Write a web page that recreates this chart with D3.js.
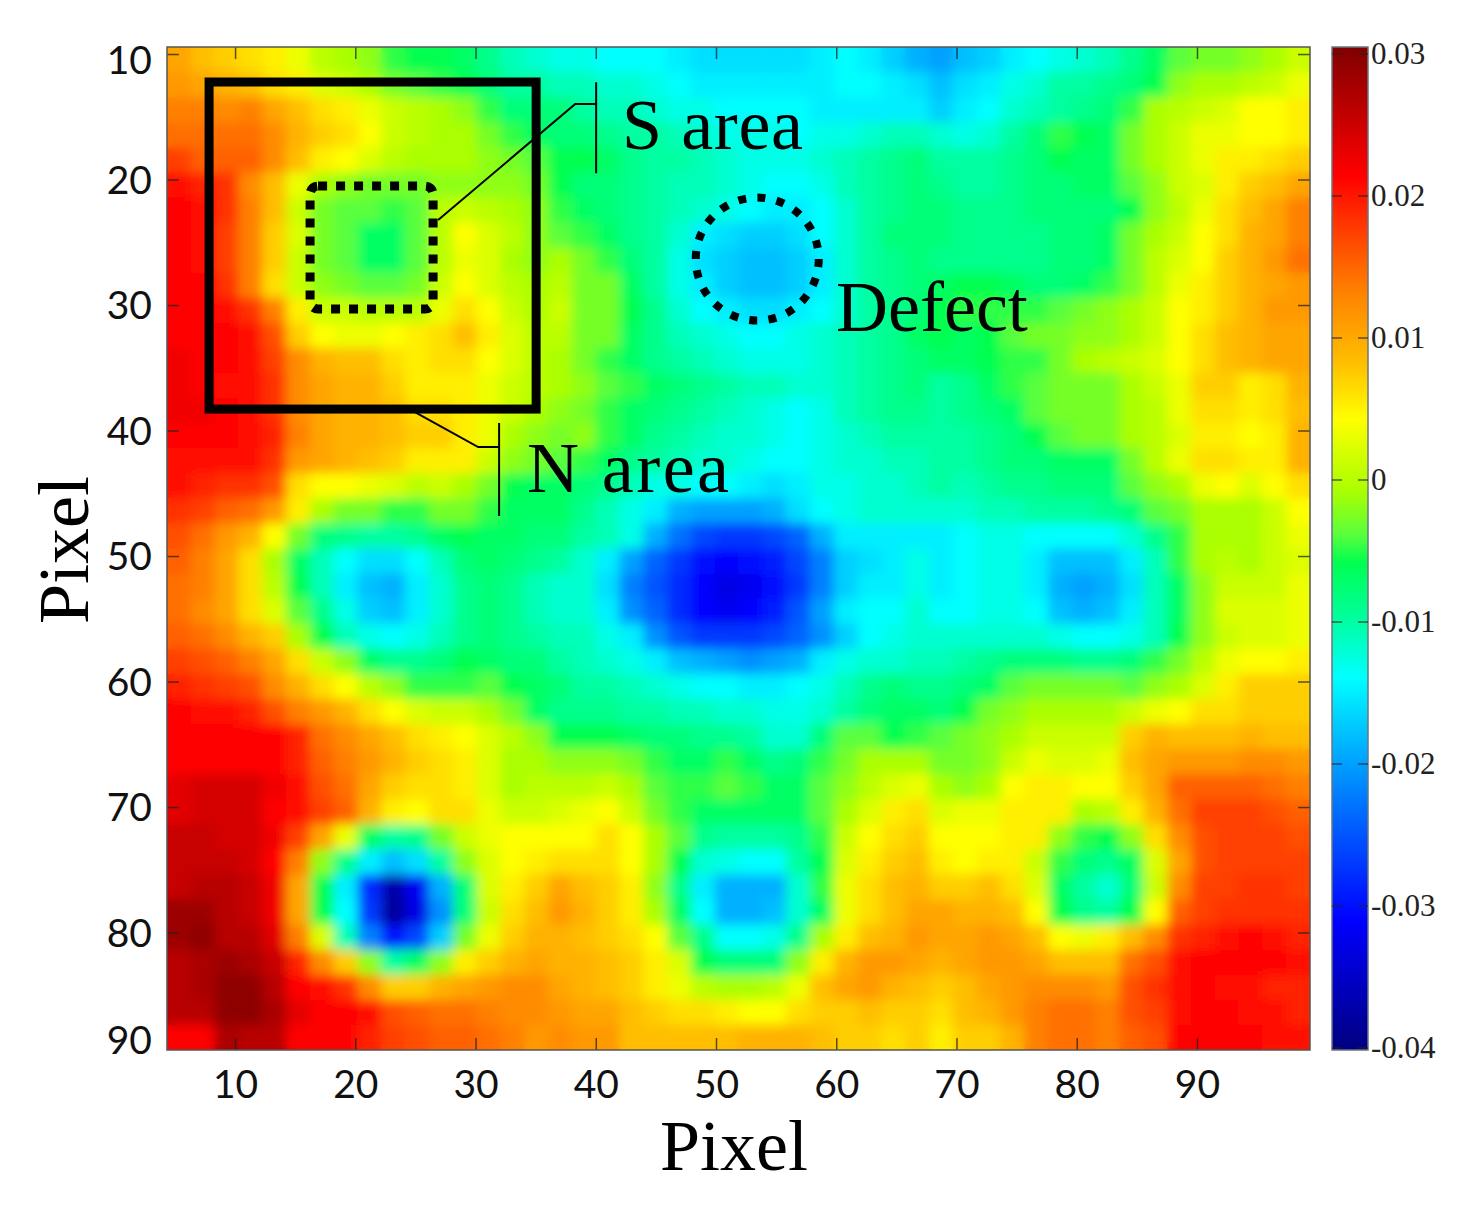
<!DOCTYPE html>
<html>
<head>
<meta charset="utf-8">
<title>Pixel map</title>
<script src="https://cdn.jsdelivr.net/npm/d3@7"></script>
<style>
  body { margin: 0; background: #fff; }
  svg { display: block; }
  .big { font-family: "Liberation Serif", serif; font-size: 72px; fill: #000; }
  .tick-num { font-family: Lato, sans-serif; font-size: 39px; fill: #111; }
  .bar-num { font-family: "Liberation Serif", serif; font-size: 31px; fill: #222; }
</style>
</head>
<body>
<div id="chart"></div>
<script>
// pixel positions of the columns and rows (every second pixel)
const colPixels = [5,7,9,11,13,15,17,19,21,23,25,27,29,31,33,35,37,39,41,43,45,47,49,51,53,55,57,59,61,63,65,67,69,71,73,75,77,79,81,83,85,87,89,91,93,95,97,99];
const rowPixels = [10,12,14,16,18,20,22,24,26,28,30,32,34,36,38,40,42,44,46,48,50,52,54,56,58,60,62,64,66,68,70,72,74,76,78,80,82,84,86,88];

// map values, in thousandths (one row per rowPixels entry)
const heat = [
[10,8,7,6,5,3,0,-1,-2,-5,-6,-6,-7,-9,-11,-12,-13,-13,-14,-14,-14,-15,-16,-16,-16,-16,-16,-15,-14,-15,-17,-19,-20,-18,-17,-15,-14,-13,-12,-11,-9,-7,-4,-3,-3,-2,-1,1],
[11,10,9,8,6,5,2,1,-1,-3,-4,-5,-6,-8,-10,-10,-11,-11,-12,-12,-13,-14,-15,-15,-15,-15,-15,-15,-14,-14,-15,-16,-18,-16,-15,-13,-12,-10,-10,-9,-8,-6,-2,-1,-1,0,1,3],
[13,13,12,13,10,8,6,5,3,1,0,-1,-2,-5,-8,-8,-8,-10,-11,-11,-12,-13,-13,-14,-14,-14,-14,-15,-15,-15,-15,-15,-17,-15,-14,-12,-11,-10,-9,-8,-5,-1,0,1,2,4,4,5],
[14,14,14,14,12,9,7,6,4,1,0,-1,-1,-3,-5,-7,-8,-8,-9,-10,-10,-11,-12,-13,-13,-13,-14,-13,-13,-12,-11,-11,-12,-13,-12,-10,-8,-5,-6,-7,-3,-1,1,3,3,4,4,5],
[17,15,15,15,12,8,5,4,2,0,-1,-1,-1,-2,-3,-4,-6,-6,-7,-9,-10,-10,-11,-12,-13,-13,-13,-12,-11,-10,-9,-8,-10,-10,-10,-9,-8,-6,-7,-7,-3,-1,1,3,5,5,6,7],
[20,19,18,12,8,3,-1,-2,-3,-3,-3,-2,-2,-2,-2,-3,-6,-8,-8,-9,-10,-11,-11,-12,-13,-14,-14,-13,-11,-10,-9,-8,-9,-10,-10,-9,-8,-8,-7,-7,-4,-2,1,2,5,7,8,10],
[21,20,18,13,8,1,-3,-4,-4,-5,-4,0,1,0,-1,-2,-5,-7,-8,-9,-10,-11,-12,-13,-14,-15,-15,-14,-12,-10,-9,-8,-8,-9,-9,-9,-8,-8,-8,-8,-6,-2,0,3,6,8,10,13],
[21,20,17,13,7,2,-3,-4,-7,-7,-4,0,4,2,0,-2,-4,-5,-7,-9,-10,-12,-15,-16,-17,-17,-16,-14,-12,-10,-8,-8,-8,-9,-9,-9,-9,-8,-8,-7,-3,-1,1,4,6,9,10,13],
[21,20,17,13,7,1,-3,-4,-7,-7,-4,0,3,2,-1,-2,-1,-3,-5,-8,-10,-13,-16,-17,-18,-18,-17,-15,-12,-10,-9,-8,-9,-9,-9,-9,-9,-8,-8,-7,-3,0,2,4,7,9,11,14],
[21,21,18,13,6,1,-2,-3,-4,-4,-3,1,4,2,0,-1,0,-3,-3,-7,-10,-13,-15,-17,-18,-18,-17,-15,-12,-10,-9,-8,-7,-6,-6,-7,-8,-8,-7,-5,-3,0,3,5,7,9,10,11],
[21,21,20,18,13,5,1,1,0,0,0,3,6,4,1,-1,1,-3,-3,-6,-9,-12,-14,-15,-16,-16,-15,-14,-12,-10,-9,-8,-6,-5,-5,-5,-5,-4,-3,-2,-1,1,4,5,7,9,11,11],
[21,21,21,20,16,7,4,3,3,4,5,6,8,5,2,0,0,-3,-3,-7,-9,-11,-12,-13,-14,-14,-13,-12,-11,-10,-9,-7,-6,-7,-6,-4,-3,-3,-2,-2,-1,1,4,6,8,9,10,10],
[22,21,21,20,17,12,9,8,8,6,5,6,6,4,2,0,-1,-3,-5,-7,-9,-10,-11,-12,-13,-13,-13,-12,-11,-10,-9,-8,-7,-7,-6,-5,-5,-3,-1,0,1,2,4,6,8,9,10,10],
[22,21,20,20,18,12,10,9,9,7,5,5,5,3,1,0,-1,-2,-4,-5,-7,-8,-9,-10,-11,-11,-12,-12,-11,-10,-9,-8,-10,-9,-7,-5,-4,-3,-3,-3,-1,1,3,7,7,5,6,9],
[22,22,21,20,18,12,10,9,9,8,6,6,5,3,1,-1,-2,-3,-5,-7,-8,-9,-10,-11,-12,-13,-14,-13,-11,-10,-9,-9,-10,-9,-8,-7,-4,-3,-3,-3,-1,0,3,6,6,5,6,8],
[21,21,21,20,19,13,10,9,9,8,7,7,5,3,-1,-2,-3,-2,-5,-7,-9,-10,-11,-12,-12,-13,-14,-13,-12,-11,-10,-10,-10,-10,-9,-8,-6,-4,-3,-3,-1,0,2,5,5,4,5,9],
[20,20,20,20,18,11,10,9,8,7,5,5,5,1,-2,-3,-4,-5,-7,-9,-10,-11,-12,-12,-13,-14,-14,-13,-12,-12,-11,-11,-10,-10,-9,-8,-8,-7,-7,-7,-3,0,3,6,6,5,5,9],
[20,19,18,18,16,6,4,4,3,2,0,1,-1,-3,-6,-7,-7,-8,-9,-11,-13,-13,-14,-14,-15,-16,-15,-13,-13,-12,-12,-11,-10,-11,-10,-9,-9,-8,-8,-8,-4,-2,-1,3,4,2,4,6],
[18,17,15,14,11,5,-1,-3,-3,-5,-5,-3,-3,-5,-7,-7,-7,-9,-11,-13,-15,-19,-20,-20,-20,-19,-16,-14,-13,-12,-12,-12,-12,-12,-11,-11,-10,-10,-10,-9,-8,-4,-3,-1,-1,-1,1,4],
[16,14,11,9,4,-3,-8,-9,-10,-10,-9,-7,-6,-7,-7,-8,-8,-10,-11,-13,-19,-23,-26,-27,-27,-26,-24,-19,-15,-15,-15,-15,-15,-14,-13,-13,-14,-14,-14,-14,-12,-9,-5,-1,-1,-1,1,3],
[15,13,10,6,-1,-7,-11,-14,-16,-16,-14,-11,-8,-7,-8,-9,-10,-12,-15,-20,-24,-27,-30,-31,-30,-29,-26,-22,-17,-16,-15,-13,-15,-14,-13,-13,-15,-18,-18,-18,-15,-11,-5,-1,0,-1,1,2],
[14,13,10,6,0,-6,-11,-15,-18,-19,-15,-12,-9,-8,-9,-11,-12,-12,-16,-22,-25,-28,-31,-33,-32,-30,-27,-22,-17,-15,-15,-13,-15,-14,-13,-13,-15,-19,-20,-19,-16,-11,-7,-2,1,1,1,3],
[14,12,10,6,2,-4,-9,-13,-17,-18,-15,-12,-9,-8,-9,-11,-12,-12,-15,-21,-24,-28,-31,-32,-31,-29,-25,-20,-15,-14,-14,-12,-14,-14,-13,-13,-14,-18,-19,-18,-15,-11,-7,-2,2,2,2,3],
[15,14,12,9,7,-1,-6,-11,-13,-14,-13,-11,-9,-8,-9,-10,-11,-11,-13,-15,-21,-25,-27,-27,-27,-26,-24,-21,-17,-14,-13,-12,-12,-12,-12,-12,-12,-13,-14,-14,-13,-11,-6,-2,1,2,2,3],
[17,16,15,13,10,6,1,-2,-7,-9,-9,-8,-6,-7,-8,-8,-10,-11,-12,-13,-15,-18,-19,-20,-21,-20,-19,-15,-13,-12,-12,-11,-11,-10,-9,-8,-8,-8,-9,-9,-8,-5,-3,0,3,4,4,5],
[19,18,17,16,12,9,6,4,0,-2,-5,-5,-5,-4,-6,-7,-8,-10,-10,-11,-12,-13,-14,-14,-15,-15,-14,-13,-11,-9,-8,-9,-9,-8,-7,-4,-3,-3,-3,-3,-4,-2,-1,2,5,7,7,7],
[21,20,20,19,16,13,11,9,6,4,2,1,1,-1,-3,-7,-9,-9,-9,-10,-10,-11,-11,-12,-12,-13,-13,-12,-10,-8,-7,-7,-8,-6,-3,-2,-1,-1,-1,-1,1,3,4,6,6,7,7,7],
[21,21,21,21,21,19,14,12,10,8,6,5,4,2,0,-2,-6,-6,-6,-7,-8,-8,-9,-9,-10,-12,-12,-8,-4,-4,-6,-5,-4,-3,-2,-1,1,1,1,1,7,9,8,8,8,9,8,8],
[21,21,21,21,21,19,15,13,11,9,7,6,5,2,-1,-1,-2,-2,-2,-3,-5,-7,-7,-5,-7,-9,-8,-5,-3,-1,-1,-1,-3,-3,-2,1,3,2,2,3,8,10,11,11,11,12,12,11],
[23,24,24,24,22,20,16,14,10,7,6,6,5,2,-1,0,0,0,1,-1,-4,-5,-5,-4,-5,-7,-7,-4,-2,0,2,3,-1,-2,-1,4,5,5,4,4,7,10,15,15,15,15,14,13],
[23,24,24,24,21,20,17,15,9,5,4,6,6,3,1,1,2,3,4,1,-3,-5,-7,-7,-7,-7,-7,-4,-1,2,5,6,2,3,3,5,5,5,-1,0,5,9,14,17,17,17,16,15],
[25,25,24,24,22,17,10,3,-7,-10,-9,-3,1,3,4,4,4,4,6,4,-1,-4,-9,-10,-10,-10,-9,-5,1,4,6,7,4,4,4,5,5,-2,-5,-6,-2,6,12,16,17,17,17,16],
[25,25,25,24,21,13,-2,-9,-15,-18,-16,-10,-2,2,4,5,6,6,6,4,-1,-6,-12,-13,-14,-14,-10,-6,2,5,7,8,5,4,5,5,1,-5,-8,-9,-7,2,10,16,17,17,17,17],
[25,26,26,25,22,10,-6,-15,-28,-37,-32,-19,-8,2,5,7,10,8,7,5,-2,-9,-15,-19,-19,-19,-12,-5,3,6,8,9,7,7,8,6,2,-7,-10,-12,-8,1,12,17,17,18,18,17],
[28,28,26,25,22,10,-6,-14,-27,-38,-33,-21,-8,1,6,8,11,9,7,5,-1,-7,-14,-19,-19,-18,-12,-7,3,6,8,10,10,9,9,8,4,-6,-9,-10,-6,4,15,17,18,18,18,18],
[28,29,26,26,23,13,2,-11,-22,-30,-26,-17,-3,3,7,9,9,8,7,6,4,-4,-9,-14,-14,-13,-9,-1,5,8,9,11,10,10,11,10,8,4,3,5,8,12,18,19,20,21,20,19],
[26,27,28,27,25,19,12,7,-2,-10,-7,-2,5,7,9,10,9,9,8,7,5,2,-6,-8,-8,-8,-2,5,9,11,11,10,9,10,11,11,10,8,8,8,14,16,20,21,21,21,21,20],
[26,27,29,29,26,21,20,18,12,7,7,9,10,11,12,12,10,9,8,7,5,3,0,-1,-1,0,3,8,10,11,9,8,7,8,10,11,12,12,12,11,16,18,20,21,20,20,19,19],
[26,26,29,29,27,23,21,21,20,16,15,14,14,13,12,12,11,10,10,8,7,6,6,5,4,4,6,7,7,8,7,7,6,8,9,11,13,14,14,13,16,17,20,21,21,20,20,19],
[21,21,27,26,26,21,21,21,19,17,16,15,15,14,13,11,12,11,11,8,8,8,8,8,9,9,9,8,7,7,6,7,5,7,7,9,13,14,14,13,15,16,21,21,21,21,20,20]
];

const xTicks = [10,20,30,40,50,60,70,80,90];
const yTicks = [10,20,30,40,50,60,70,80,90];
const barTicks = [0.03,0.02,0.01,0,-0.01,-0.02,-0.03,-0.04];
const barLabels = ["0.03","0.02","0.01","0","-0.01","-0.02","-0.03","-0.04"];

// colour ramp, stops in thousandths
const rampStops = [-40,-31,-22,-14,-10,-6,-4,-1,1.5,4,8,13,21,30];
const rampColors = ["#000080","#0000ff","#0080ff","#00ffff","#00ffa0","#00ff50","#5aff3c","#aaff00","#d2ff00","#ffff00","#ffbe00","#ff8000","#ff0000","#800000"];

var width = 1479, height = 1206;
var plot = {left: 167, right: 1310, top: 47, bottom: 1050};
var bar = {left: 1332, right: 1368};

var svg = d3.select("#chart").append("svg").attr("width", width).attr("height", height);

var x = d3.scaleLinear().domain([4.34, 99.4]).range([plot.left, plot.right]);
var y = d3.scaleLinear().domain([9.44, 89.36]).range([plot.top, plot.bottom]);
var colBand = d3.scaleBand().domain(colPixels).range([plot.left, plot.right]);
var rowBand = d3.scaleBand().domain(rowPixels).range([plot.top, plot.bottom]);
var color = d3.scaleLinear().domain(rampStops).range(rampColors).clamp(true);
var barY = d3.scaleLinear().domain([0.03, -0.04]).range([54, 1048]);

var defs = svg.append("defs");
defs.append("clipPath").attr("id", "plotClip").append("rect")
    .attr("x", plot.left).attr("y", plot.top)
    .attr("width", plot.right - plot.left).attr("height", plot.bottom - plot.top);
defs.append("filter").attr("id", "soft")
    .attr("x", "-5%").attr("y", "-5%").attr("width", "110%").attr("height", "110%")
  .append("feGaussianBlur").attr("stdDeviation", 6);

// the map: sharp copy underneath so the blur has something to fade into at the edges
function drawCells(g) {
  heat.forEach(function(row, r) {
    g.selectAll(null)
      .data(row)
      .enter()
      .append("rect")
      .attr("x", function(d, c) { return colBand(colPixels[c]); })
      .attr("y", rowBand(rowPixels[r]))
      .attr("width", colBand.bandwidth() + 0.5)
      .attr("height", rowBand.bandwidth() + 0.5)
      .attr("fill", function(d) { return color(d); });
  });
}
var mapClip = svg.append("g").attr("clip-path", "url(#plotClip)");
drawCells(mapClip.append("g"));
drawCells(mapClip.append("g").attr("filter", "url(#soft)"));

// axes, ticks pointing in on all four sides
function styleAxis(g) {
  g.select(".domain").remove();
  g.selectAll("line").attr("stroke", "#222").attr("stroke-width", 1.5).attr("stroke-opacity", 0.75);
}
svg.append("g").attr("transform", "translate(0," + plot.bottom + ")")
    .call(d3.axisBottom(x).tickValues(xTicks).tickSize(-12).tickPadding(20))
    .call(styleAxis)
    .selectAll("text").attr("class", "tick-num").style("font-family", null).style("font-size", null);
svg.append("g").attr("transform", "translate(0," + plot.top + ")")
    .call(d3.axisTop(x).tickValues(xTicks).tickSize(-12).tickFormat(""))
    .call(styleAxis);
svg.append("g").attr("transform", "translate(" + plot.left + ",0)")
    .call(d3.axisLeft(y).tickValues(yTicks.slice(0, -1)).tickSize(-12).tickFormat(""))
    .call(styleAxis);
svg.append("g").attr("transform", "translate(" + plot.right + ",0)")
    .call(d3.axisRight(y).tickValues(yTicks.slice(0, -1)).tickSize(-12).tickFormat(""))
    .call(styleAxis);

// y labels are kept inside the frame height, 10 and 90 get pulled in
svg.selectAll("ylabels")
    .data(yTicks)
    .enter()
    .append("text")
    .attr("class", "tick-num")
    .attr("x", 152)
    .attr("y", function(d) { return Math.min(Math.max(y(d), 60), 1040); })
    .attr("dy", "0.36em")
    .style("text-anchor", "end")
    .text(function(d) { return d; });

svg.append("rect")
    .attr("x", plot.left).attr("y", plot.top)
    .attr("width", plot.right - plot.left).attr("height", plot.bottom - plot.top)
    .attr("fill", "none").attr("stroke", "#555").attr("stroke-width", 1.5);

// colour bar
var grad = defs.append("linearGradient").attr("id", "ramp")
    .attr("x1", 0).attr("x2", 0).attr("y1", 1).attr("y2", 0);
grad.selectAll("stop")
    .data(rampStops)
    .enter()
    .append("stop")
    .attr("offset", function(d) { return (d + 40) / 70; })
    .attr("stop-color", function(d) { return color(d); });
svg.append("rect")
    .attr("x", bar.left).attr("y", plot.top)
    .attr("width", bar.right - bar.left).attr("height", plot.bottom - plot.top)
    .attr("fill", "url(#ramp)").attr("stroke", "#6b7680").attr("stroke-width", 1.5);

svg.selectAll("barLeft")
    .data(barTicks)
    .enter()
    .append("line")
    .attr("x1", bar.left).attr("x2", bar.left + 10)
    .attr("y1", function(d) { return barY(d); }).attr("y2", function(d) { return barY(d); })
    .attr("stroke", "#222").attr("stroke-opacity", 0.7).attr("stroke-width", 1.5);
svg.selectAll("barRight")
    .data(barTicks)
    .enter()
    .append("line")
    .attr("x1", bar.right - 10).attr("x2", bar.right)
    .attr("y1", function(d) { return barY(d); }).attr("y2", function(d) { return barY(d); })
    .attr("stroke", "#222").attr("stroke-opacity", 0.7).attr("stroke-width", 1.5);
svg.selectAll("barText")
    .data(barTicks)
    .enter()
    .append("text")
    .attr("class", "bar-num")
    .attr("x", 1371)
    .attr("y", function(d) { return barY(d); })
    .attr("dy", "0.33em")
    .text(function(d, i) { return barLabels[i]; });

// annotations, in pixel-axis units
svg.append("rect")
    .attr("x", x(7.84)).attr("y", y(12.23))
    .attr("width", x(35.04) - x(7.84)).attr("height", y(38.29) - y(12.23))
    .attr("fill", "none").attr("stroke", "#000").attr("stroke-width", 9);
svg.append("rect")
    .attr("x", x(16.24)).attr("y", y(20.52))
    .attr("width", x(26.47) - x(16.24)).attr("height", y(30.32) - y(20.52))
    .attr("rx", 8)
    .attr("fill", "none").attr("stroke", "#000").attr("stroke-width", 9).attr("stroke-dasharray", "9 9");
svg.append("circle")
    .attr("cx", x(53.43)).attr("cy", y(26.34)).attr("r", 61.5)
    .attr("fill", "none").attr("stroke", "#000").attr("stroke-width", 8).attr("stroke-dasharray", "8 11.3");

var leader = d3.line().x(function(d) { return x(d[0]); }).y(function(d) { return y(d[1]); });
var leaders = [
  [[26.89,23.23],[38.29,13.98],[40.03,13.98]],
  [[40.03,12.25],[40.03,19.5]],
  [[24.81,38.45],[30.22,41.32],[31.96,41.32]],
  [[31.96,39.4],[31.96,46.81]]
];
svg.selectAll("leaders")
    .data(leaders)
    .enter()
    .append("path")
    .attr("d", leader)
    .attr("fill", "none").attr("stroke", "#000").attr("stroke-width", 2);

svg.append("text").attr("class", "big").attr("x", 622).attr("y", 149).attr("textLength", 181).text("S area");
svg.append("text").attr("class", "big").attr("x", 527).attr("y", 492).attr("textLength", 202).text("N area");
svg.append("text").attr("class", "big").attr("x", 836).attr("y", 331).text("Defect");
svg.append("text").attr("class", "big").attr("x", 734).attr("y", 1170).style("text-anchor", "middle").text("Pixel");
svg.append("text").attr("class", "big")
    .attr("transform", "translate(88,550) rotate(-90)")
    .style("text-anchor", "middle").text("Pixel");
</script>
</body>
</html>
